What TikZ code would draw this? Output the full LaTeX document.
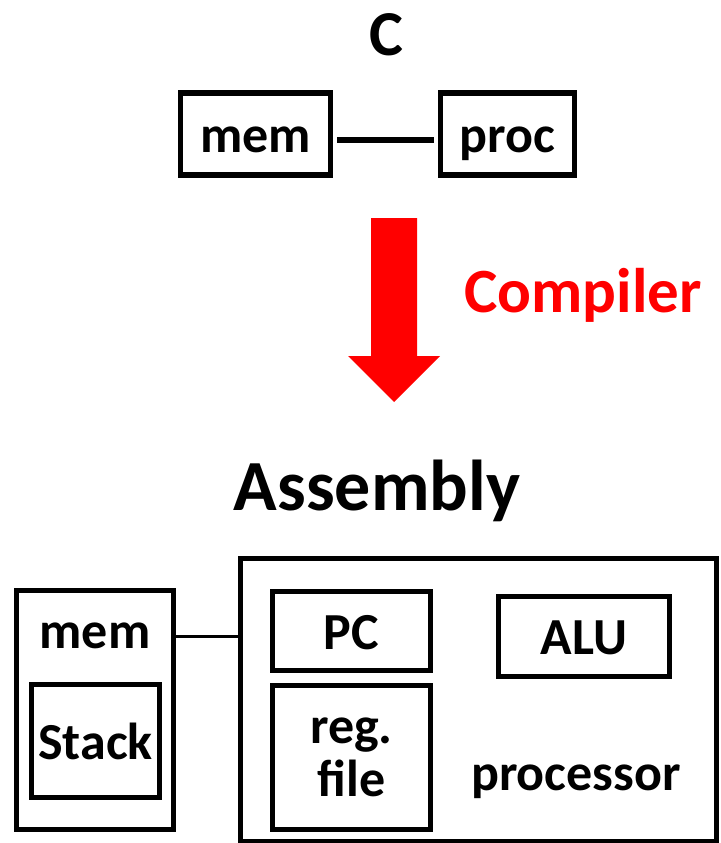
\documentclass[tikz,border=0pt]{standalone}
\usepackage{fontspec}
\setmainfont{Carlito}
\usetikzlibrary{positioning, calc}
\usepackage{xcolor}
\definecolor{ink}{HTML}{000000}
\definecolor{hot}{HTML}{FF0000}
\tikzset{
  box/.style   = {draw=ink, line width=5.5pt, inner sep=0pt,
                  text height=38pt, text depth=2pt, align=center,
                  font=\bfseries\fontsize{52}{53}\selectfont},
  lbl/.style   = {anchor=base, inner sep=0pt, text=ink,
                  font=\bfseries\fontsize{52}{58}\selectfont},
  title/.style = {anchor=base, inner sep=0pt, text=ink, font=\bfseries},
  wire/.style  = {draw=ink, line width=5.5pt},
  thin/.style  = {draw=ink, line width=2.7pt},
}
\begin{document}
\begin{tikzpicture}[x=1pt, y=-1pt]
  \useasboundingbox (0,0) rectangle (720,843);

  % C level
  \node[title, font=\bfseries\fontsize{64}{70}\selectfont] (ctitle) at (386,56) {C};
  \node[box, minimum width=150pt, minimum height=82pt] (cmem)  at (255.5,134) {mem};
  \node[box, minimum width=134pt, minimum height=82pt] (cproc) at (507.5,134) {proc};
  \draw[wire, shorten <=4pt, shorten >=4pt]
    ([yshift=-6pt]cmem.east) -- ([yshift=-6pt]cproc.west);

  % compiler step
  \fill[hot] (371,218) -- (417,218) -- (417,356) -- (440,356) -- (394,402)
    -- (348,356) -- (371,356) -- cycle;
  \node[title, text=hot, font=\bfseries\fontsize{63}{70}\selectfont] (comp) at (583,312) {Compiler};

  % assembly level
  \node[title, font=\bfseries\fontsize{72}{80}\selectfont] (atitle) at (377,510) {Assembly};

  \node[box, minimum width=157pt, minimum height=239pt] (amem) at (95,710) {};
  \node[lbl] (memlbl) at (95,648) {mem};
  \node[box, minimum width=128pt, minimum height=113pt] (stack) at (95.5,741) {Stack};

  \node[box, minimum width=476pt, minimum height=283pt] (aproc) at (478.5,700) {};
  \node[box, minimum width=158pt, minimum height=79pt]  (pc)  at (351.5,631) {PC};
  \node[box, minimum width=158pt, minimum height=144pt, text height=, text depth=]
    (reg) at (351.5,757.5) {reg.\\file};
  \node[box, minimum width=171pt, minimum height=80pt]  (alu) at (584,636.5) {ALU};
  \node[lbl] (plbl) at (576,790) {processor};

  \draw[thin] (amem.east |- alu) -- (aproc.west |- alu);
\end{tikzpicture}
\end{document}
